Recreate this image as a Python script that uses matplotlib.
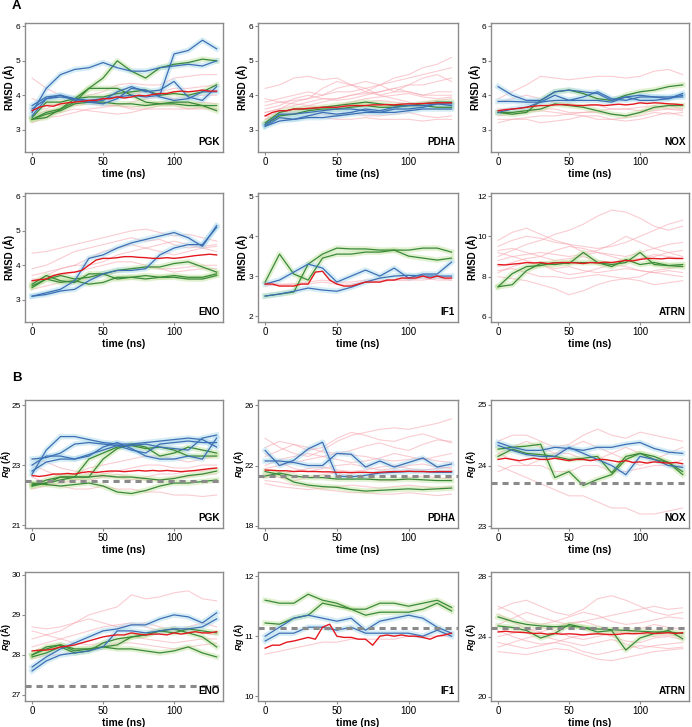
import numpy as np
import matplotlib
matplotlib.use("Agg")
import matplotlib.pyplot as plt

plt.rcParams['font.family'] = ['Liberation Sans', 'DejaVu Sans']
plt.rcParams['mathtext.fontset'] = 'custom'
plt.rcParams['mathtext.it'] = 'Liberation Sans:italic:bold'

# time grids (ns)
t10 = np.arange(0, 131, 10)
t5 = np.arange(0, 131, 5)

# ---------------- A: RMSD ----------------
pgk_rmsd_blue = [
    [3.5, 4.2, 4.6, 4.75, 4.8, 4.95, 4.8, 4.7, 4.7, 4.8, 4.85, 4.9, 4.85, 5.0],
    [3.6, 3.9, 3.95, 3.9, 3.85, 3.9, 3.95, 4.0, 3.95, 4.0, 5.2, 5.3, 5.6, 5.35],
    [3.7, 3.95, 4.0, 3.9, 3.8, 3.85, 4.1, 4.25, 4.1, 4.15, 4.4, 3.95, 3.85, 4.25],
    [3.4, 3.9, 4.0, 3.85, 3.8, 3.75, 3.9, 4.2, 4.15, 3.95, 3.85, 3.9, 4.1, 4.1],
]
pgk_rmsd_green = [
    [3.3, 3.5, 3.6, 3.8, 4.2, 4.5, 5.0, 4.7, 4.5, 4.8, 4.9, 4.95, 5.05, 5.0],
    [3.3, 3.35, 3.6, 3.9, 4.2, 4.2, 4.2, 4.0, 3.8, 3.75, 3.8, 3.8, 3.7, 3.55],
    [3.3, 3.45, 3.55, 3.75, 3.8, 3.8, 3.75, 3.75, 3.7, 3.75, 3.75, 3.7, 3.7, 3.7],
    [3.35, 3.8, 3.8, 3.9, 3.95, 3.95, 4.05, 4.1, 4.15, 4.0, 4.05, 4.0, 4.1, 4.3],
]
pgk_rmsd_pink = [
    [4.5, 4.2, 4.0, 3.9, 3.8, 3.8, 3.7, 3.6, 3.6, 3.7, 3.7, 3.6, 3.6, 3.6],
    [3.3, 3.4, 3.5, 3.6, 3.55, 3.5, 3.45, 3.5, 3.6, 3.6, 3.6, 3.6, 3.65, 3.6],
    [3.6, 3.6, 3.8, 3.9, 4.0, 4.1, 4.3, 4.35, 4.3, 4.3, 4.5, 4.55, 4.6, 4.6],
    [3.2, 3.35, 3.4, 3.5, 3.6, 3.65, 3.7, 3.65, 3.7, 3.8, 3.8, 3.75, 3.8, 3.75],
    [3.9, 3.75, 3.7, 3.75, 3.85, 3.9, 4.0, 4.05, 4.1, 4.1, 4.2, 4.2, 4.25, 4.3],
    [3.4, 3.55, 3.6, 3.7, 3.75, 3.7, 3.7, 3.8, 3.9, 3.95, 3.9, 3.95, 4.0, 4.0],
]
pgk_rmsd_red = [3.55, 3.65, 3.7, 3.68, 3.75, 3.78, 3.8, 3.82, 3.85, 3.85, 3.9, 3.9, 3.95, 3.92,
                3.95, 4.0, 3.98, 4.02, 4.05, 4.05, 4.1, 4.12, 4.1, 4.12, 4.15, 4.12, 4.12]

pdha_rmsd_blue = [
    [3.1, 3.25, 3.3, 3.35, 3.35, 3.4, 3.45, 3.5, 3.5, 3.5, 3.55, 3.6, 3.6, 3.6],
    [3.15, 3.45, 3.45, 3.5, 3.55, 3.6, 3.6, 3.55, 3.5, 3.6, 3.6, 3.65, 3.75, 3.75],
    [3.1, 3.35, 3.3, 3.4, 3.5, 3.45, 3.5, 3.6, 3.55, 3.65, 3.7, 3.7, 3.75, 3.7],
]
pdha_rmsd_green = [
    [3.2, 3.5, 3.6, 3.6, 3.65, 3.7, 3.75, 3.8, 3.75, 3.7, 3.7, 3.75, 3.8, 3.8],
    [3.15, 3.4, 3.45, 3.55, 3.6, 3.6, 3.65, 3.7, 3.65, 3.65, 3.7, 3.7, 3.65, 3.65],
]
pdha_rmsd_pink = [
    [4.2, 4.3, 4.5, 4.55, 4.45, 4.5, 4.3, 4.4, 4.3, 4.1, 4.1, 4.0, 4.0, 4.0],
    [3.5, 3.6, 3.8, 3.9, 4.0, 4.1, 4.1, 4.2, 4.3, 4.5, 4.6, 4.8, 4.9, 5.1],
    [3.3, 3.5, 3.6, 3.7, 3.8, 3.9, 4.0, 4.1, 4.3, 4.4, 4.5, 4.6, 4.7, 4.8],
    [3.4, 3.3, 3.3, 3.4, 3.35, 3.3, 3.3, 3.35, 3.3, 3.3, 3.3, 3.25, 3.3, 3.3],
    [3.6, 3.7, 3.9, 4.0, 3.9, 3.9, 4.0, 4.05, 4.1, 4.2, 4.1, 4.0, 4.1, 4.1],
    [3.8, 3.9, 4.0, 4.1, 4.0, 4.2, 4.3, 4.2, 4.0, 3.9, 3.8, 3.7, 3.7, 3.75],
    [3.3, 3.4, 3.5, 3.5, 3.45, 3.4, 3.5, 3.4, 3.4, 3.45, 3.5, 3.4, 3.35, 3.4],
    [3.5, 3.6, 3.7, 3.8, 3.9, 3.85, 3.9, 4.0, 4.1, 4.2, 4.3, 4.3, 4.4, 4.5],
    [3.7, 3.8, 3.85, 3.9, 4.2, 4.4, 4.3, 4.1, 4.0, 4.1, 4.3, 4.5, 4.6, 4.4],
    [3.4, 3.5, 3.55, 3.6, 3.6, 3.65, 3.7, 3.8, 3.85, 3.8, 3.75, 3.8, 3.85, 3.9],
    [3.9, 3.8, 3.75, 3.7, 3.65, 3.7, 3.8, 3.9, 3.95, 4.0, 4.05, 3.95, 3.9, 3.95],
]
pdha_rmsd_red = [3.4, 3.5, 3.55, 3.55, 3.6, 3.6, 3.62, 3.63, 3.65, 3.65, 3.65, 3.68, 3.7, 3.7,
                 3.7, 3.72, 3.72, 3.73, 3.72, 3.74, 3.75, 3.75, 3.76, 3.77, 3.78, 3.78, 3.78]

nox_rmsd_blue = [
    [4.25, 4.0, 3.85, 3.85, 4.1, 4.15, 4.1, 4.05, 3.85, 3.95, 3.85, 3.85, 3.9, 4.05],
    [3.82, 3.82, 3.8, 3.8, 3.85, 3.85, 3.95, 4.1, 3.9, 3.85, 3.95, 3.95, 3.95, 3.95],
    [3.5, 3.6, 3.65, 3.8, 4.0, 3.85, 3.85, 3.85, 3.8, 3.95, 4.0, 3.95, 3.9, 4.0],
]
nox_rmsd_green = [
    [3.5, 3.45, 3.5, 3.85, 4.1, 4.15, 4.05, 3.9, 3.85, 4.0, 4.1, 4.15, 4.25, 4.3],
    [3.5, 3.5, 3.55, 3.6, 3.75, 3.7, 3.65, 3.55, 3.45, 3.4, 3.5, 3.65, 3.7, 3.7],
]
nox_rmsd_pink = [
    [3.9, 4.1, 4.3, 4.55, 4.5, 4.45, 4.5, 4.55, 4.55, 4.5, 4.55, 4.7, 4.75, 4.6],
    [3.3, 3.3, 3.35, 3.4, 3.4, 3.45, 3.4, 3.3, 3.3, 3.35, 3.4, 3.5, 3.45, 3.5],
    [3.2, 3.3, 3.3, 3.2, 3.25, 3.3, 3.4, 3.4, 3.3, 3.25, 3.3, 3.4, 3.5, 3.4],
    [3.8, 3.9, 4.0, 3.9, 3.8, 3.75, 3.7, 3.7, 3.6, 3.6, 3.65, 3.7, 3.6, 3.6],
    [3.6, 3.6, 3.55, 3.6, 3.6, 3.5, 3.5, 3.55, 3.6, 3.6, 3.55, 3.6, 3.7, 3.6],
    [3.4, 3.45, 3.5, 3.55, 3.5, 3.45, 3.5, 3.5, 3.45, 3.4, 3.5, 3.55, 3.6, 3.55],
]
nox_rmsd_red = [3.55, 3.58, 3.6, 3.62, 3.65, 3.68, 3.7, 3.7, 3.72, 3.73, 3.72, 3.7, 3.7, 3.72,
                3.72, 3.7, 3.72, 3.74, 3.72, 3.74, 3.78, 3.76, 3.78, 3.77, 3.75, 3.74, 3.72]

eno_rmsd_blue = [
    [3.1, 3.2, 3.3, 3.55, 4.2, 4.3, 4.5, 4.65, 4.75, 4.85, 4.95, 4.8, 4.55, 5.15],
    [3.1, 3.15, 3.25, 3.3, 3.55, 3.75, 3.85, 3.85, 3.9, 4.3, 4.5, 4.6, 4.6, 5.1],
]
eno_rmsd_green = [
    [3.35, 3.6, 3.7, 3.6, 3.65, 3.75, 3.85, 3.9, 3.95, 3.95, 4.05, 4.1, 3.95, 3.8],
    [3.45, 3.7, 3.55, 3.5, 3.75, 3.75, 3.6, 3.65, 3.7, 3.65, 3.65, 3.6, 3.6, 3.7],
    [3.4, 3.6, 3.5, 3.55, 3.45, 3.5, 3.65, 3.65, 3.6, 3.65, 3.7, 3.65, 3.65, 3.75],
]
eno_rmsd_pink = [
    [4.35, 4.4, 4.5, 4.6, 4.7, 4.8, 4.9, 5.0, 5.05, 4.95, 4.85, 4.9, 4.8, 4.7],
    [3.9, 4.0, 4.2, 4.4, 4.5, 4.6, 4.7, 4.8, 4.7, 4.75, 4.6, 4.5, 4.55, 4.6],
    [3.7, 3.8, 3.9, 4.0, 4.2, 4.4, 4.5, 4.6, 4.5, 4.4, 4.3, 4.4, 4.5, 4.55],
    [3.6, 3.6, 3.7, 3.8, 3.9, 4.0, 4.1, 4.1, 4.0, 3.9, 3.9, 3.95, 4.0, 4.0],
    [3.3, 3.4, 3.5, 3.6, 3.6, 3.7, 3.8, 3.9, 3.95, 3.9, 3.8, 3.85, 3.9, 3.9],
    [3.5, 3.7, 3.9, 4.0, 4.0, 4.1, 4.3, 4.4, 4.5, 4.6, 4.7, 4.6, 4.5, 4.4],
]
eno_rmsd_red = [3.55, 3.58, 3.6, 3.7, 3.75, 3.78, 3.8, 3.85, 4.0, 4.15, 4.2, 4.2, 4.22, 4.25,
                4.25, 4.23, 4.22, 4.2, 4.2, 4.22, 4.2, 4.22, 4.25, 4.28, 4.3, 4.32, 4.3]

if1_rmsd_blue = [
    [2.8, 2.9, 3.1, 3.3, 3.2, 2.85, 3.0, 3.15, 3.0, 3.2, 2.95, 3.05, 3.05, 3.35],
    [2.5, 2.55, 2.62, 2.7, 2.65, 2.62, 2.72, 2.85, 2.95, 3.0, 3.02, 3.0, 3.0, 3.0],
]
if1_rmsd_green = [
    [2.5, 2.55, 2.6, 3.3, 3.55, 3.7, 3.68, 3.68, 3.65, 3.65, 3.65, 3.7, 3.7, 3.6],
    [2.85, 3.55, 3.05, 2.9, 3.45, 3.55, 3.55, 3.6, 3.6, 3.65, 3.5, 3.45, 3.4, 3.45],
]
if1_rmsd_pink = [
    [2.85, 2.8, 2.8, 2.85, 2.9, 2.85, 2.85, 2.9, 2.9, 2.9, 2.9, 2.95, 2.9, 2.9],
    [2.75, 2.78, 2.8, 2.8, 2.85, 2.8, 2.8, 2.85, 2.85, 2.9, 2.9, 2.9, 2.95, 2.9],
]
if1_rmsd_red = [2.8, 2.8, 2.75, 2.75, 2.75, 2.8, 2.8, 3.1, 3.12, 2.9, 2.8, 2.75, 2.75, 2.8,
                2.85, 2.85, 2.85, 2.9, 2.9, 2.95, 2.95, 2.95, 3.0, 2.95, 3.0, 2.95, 2.95]

atrn_rmsd_blue = []
atrn_rmsd_green = [
    [7.5, 8.15, 8.5, 8.55, 8.7, 8.65, 9.2, 8.7, 8.6, 8.7, 9.2, 8.6, 8.55, 8.6],
    [7.5, 7.6, 8.3, 8.65, 8.6, 8.7, 8.7, 8.7, 8.5, 8.85, 8.6, 8.7, 8.55, 8.5],
]
atrn_rmsd_pink = [
    [9.0, 9.3, 9.6, 9.8, 10.1, 10.3, 10.6, 11.0, 11.3, 11.2, 10.9, 10.5, 10.3, 10.5],
    [9.5, 9.8, 10.0, 9.9, 9.7, 9.6, 9.5, 9.4, 9.5, 9.7, 10.0, 10.3, 10.6, 10.8],
    [8.0, 7.9, 7.8, 7.6, 7.4, 7.1, 7.3, 7.6, 7.8, 7.9, 7.8, 7.6, 7.7, 7.8],
    [8.8, 9.0, 9.1, 9.2, 9.1, 9.0, 9.1, 9.2, 9.1, 9.0, 9.2, 9.4, 9.6, 9.7],
    [9.2, 9.0, 8.8, 8.6, 8.4, 8.5, 8.3, 8.2, 8.3, 8.4, 8.3, 8.2, 8.1, 8.0],
    [8.3, 8.4, 8.2, 8.0, 8.0, 7.9, 8.0, 8.1, 8.0, 7.9, 8.0, 8.3, 8.4, 8.5],
    [9.8, 10.2, 10.4, 10.1, 9.8, 9.6, 9.2, 9.3, 9.6, 10.0, 9.7, 9.4, 9.2, 9.0],
    [8.5, 8.7, 8.9, 9.0, 9.3, 9.5, 9.4, 9.2, 9.0, 8.8, 8.9, 9.1, 9.0, 8.9],
    [9.3, 9.4, 9.2, 9.0, 8.8, 8.9, 9.0, 8.8, 8.6, 8.7, 8.9, 9.0, 9.2, 9.3],
    [8.2, 8.5, 8.7, 8.6, 8.3, 8.1, 8.2, 8.4, 8.6, 8.5, 8.3, 8.2, 8.3, 8.2],
]
atrn_rmsd_red = [8.6, 8.58, 8.62, 8.65, 8.7, 8.68, 8.7, 8.65, 8.68, 8.7, 8.7, 8.68, 8.65, 8.7,
                 8.68, 8.72, 8.7, 8.75, 8.8, 8.78, 8.85, 8.9, 8.9, 8.88, 8.92, 8.9, 8.9]

# ---------------- B: Rg ----------------
pgk_rg_blue = [
    [22.7, 23.5, 23.95, 23.95, 23.85, 23.75, 23.7, 23.7, 23.75, 23.8, 23.85, 23.9, 23.85, 23.6],
    [23.2, 23.25, 23.4, 23.7, 23.75, 23.7, 23.65, 23.65, 23.7, 23.6, 23.55, 23.5, 23.9, 24.0],
    [23.0, 23.3, 23.3, 23.2, 23.35, 23.5, 23.65, 23.5, 23.4, 23.7, 23.75, 23.8, 23.75, 23.75],
    [22.8, 23.1, 23.2, 23.2, 23.3, 23.6, 23.75, 23.55, 23.3, 23.2, 23.2, 23.3, 23.2, 23.9],
]
pgk_rg_green = [
    [22.3, 22.5, 22.6, 22.6, 23.2, 23.4, 23.6, 23.65, 23.55, 23.6, 23.5, 23.3, 23.3, 23.3],
    [22.3, 22.4, 22.6, 22.6, 22.6, 23.2, 23.55, 23.7, 23.6, 23.3, 23.4, 23.6, 23.5, 23.4],
    [22.35, 22.4, 22.5, 22.6, 22.6, 22.65, 22.6, 22.6, 22.55, 22.5, 22.55, 22.65, 22.7, 22.8],
    [22.4, 22.35, 22.3, 22.35, 22.4, 22.3, 22.1, 22.05, 22.15, 22.3, 22.4, 22.4, 22.45, 22.5],
]
pgk_rg_pink = [
    [23.0, 22.8, 22.6, 22.5, 22.6, 22.7, 22.8, 22.9, 23.0, 23.0, 22.9, 22.9, 23.0, 23.0],
    [22.4, 22.5, 22.6, 22.7, 22.9, 23.0, 23.1, 23.2, 23.3, 23.3, 23.2, 23.1, 23.2, 23.3],
    [22.6, 22.4, 22.3, 22.2, 22.2, 22.3, 22.2, 22.2, 22.1, 22.1, 22.0, 22.0, 21.95, 22.0],
    [23.2, 23.1, 22.9, 22.8, 22.7, 22.6, 22.6, 22.5, 22.6, 22.7, 22.7, 22.8, 22.8, 22.9],
    [22.2, 22.3, 22.4, 22.5, 22.5, 22.6, 22.7, 22.6, 22.5, 22.5, 22.6, 22.6, 22.7, 22.7],
]
pgk_rg_red = [22.65, 22.62, 22.65, 22.7, 22.7, 22.72, 22.7, 22.75, 22.78, 22.75, 22.78, 22.8, 22.8, 22.78,
              22.8, 22.82, 22.8, 22.82, 22.8, 22.82, 22.8, 22.78, 22.8, 22.82, 22.85, 22.88, 22.9]

pdha_rg_blue = [
    [23.0, 22.0, 22.35, 23.1, 23.55, 21.3, 21.25, 21.35, 21.5, 21.55, 21.6, 21.6, 21.55, 21.55],
    [22.3, 22.3, 22.2, 22.0, 22.0, 22.8, 22.75, 21.9, 22.3, 21.9, 22.2, 22.5, 21.9, 22.1],
]
pdha_rg_green = [
    [21.3, 21.5, 21.3, 21.2, 21.2, 21.1, 21.1, 21.1, 21.05, 21.05, 21.1, 21.05, 21.0, 21.0],
    [21.6, 21.4, 20.9, 20.7, 20.6, 20.55, 20.4, 20.3, 20.35, 20.4, 20.45, 20.4, 20.45, 20.5],
]
pdha_rg_pink = [
    [23.8, 23.2, 22.8, 22.6, 23.0, 23.6, 24.0, 24.2, 24.4, 24.5, 24.4, 24.6, 24.8, 25.1],
    [22.6, 23.0, 23.4, 23.2, 22.9, 22.8, 23.0, 23.3, 23.5, 23.2, 23.0, 23.4, 23.7, 23.6],
    [21.0, 20.9, 20.7, 20.6, 20.4, 20.3, 20.2, 20.2, 20.1, 20.1, 20.2, 20.1, 20.0, 20.1],
    [20.8, 20.6, 20.5, 20.4, 20.5, 20.6, 20.7, 20.6, 20.5, 20.6, 20.7, 20.6, 20.5, 20.6],
    [22.0, 22.4, 22.6, 22.8, 22.6, 22.4, 22.2, 22.3, 22.5, 22.8, 22.6, 22.4, 22.6, 22.8],
    [21.4, 21.2, 21.0, 21.2, 21.4, 21.5, 21.3, 21.2, 21.0, 21.0, 21.2, 21.3, 21.2, 21.1],
    [22.8, 22.2, 21.8, 21.6, 21.8, 22.0, 22.1, 21.9, 21.7, 21.8, 22.0, 22.1, 21.9, 21.8],
    [21.8, 22.0, 22.2, 22.4, 22.6, 22.8, 22.7, 22.6, 22.4, 22.3, 22.4, 22.5, 22.3, 22.2],
    [23.2, 23.6, 23.4, 23.0, 23.2, 23.8, 24.2, 24.0, 23.7, 23.6, 23.9, 24.1, 23.8, 23.5],
    [21.2, 21.4, 21.6, 21.8, 21.9, 21.7, 21.6, 21.7, 21.9, 22.0, 21.8, 21.7, 21.8, 21.9],
]
pdha_rg_red = [21.7, 21.68, 21.65, 21.65, 21.6, 21.62, 21.6, 21.6, 21.58, 21.58, 21.55, 21.55, 21.52, 21.55,
               21.55, 21.52, 21.55, 21.58, 21.6, 21.6, 21.62, 21.6, 21.6, 21.58, 21.6, 21.6, 21.6]

nox_rg_blue = [
    [24.38, 24.3, 24.25, 24.25, 24.3, 24.28, 24.25, 24.3, 24.3, 24.35, 24.38, 24.28, 24.22, 24.2],
    [24.33, 24.25, 24.18, 24.15, 24.15, 24.3, 24.2, 24.1, 24.0, 23.85, 24.15, 24.1, 24.0, 23.97],
]
nox_rg_green = [
    [24.27, 24.3, 24.32, 24.35, 23.8, 23.9, 23.67, 23.77, 23.85, 24.1, 24.2, 24.1, 24.05, 23.9],
    [24.15, 24.27, 24.2, 24.18, 24.15, 24.1, 24.12, 24.15, 23.88, 24.15, 24.2, 24.15, 24.05, 23.85],
]
nox_rg_pink = [
    [24.4, 24.5, 24.5, 24.4, 24.3, 24.35, 24.5, 24.6, 24.5, 24.45, 24.55, 24.5, 24.45, 24.4],
    [24.0, 23.9, 23.8, 23.7, 23.6, 23.5, 23.5, 23.4, 23.3, 23.3, 23.2, 23.2, 23.25, 23.3],
    [24.2, 24.3, 24.4, 24.3, 24.2, 24.2, 24.1, 24.1, 24.2, 24.3, 24.2, 24.1, 24.0, 24.1],
    [23.9, 24.0, 24.0, 24.0, 23.9, 23.9, 24.0, 24.0, 23.9, 23.9, 23.95, 24.0, 24.0, 24.0],
    [24.2, 24.1, 24.0, 24.1, 24.2, 24.3, 24.4, 24.3, 24.2, 24.1, 24.0, 24.1, 24.2, 24.3],
]
nox_rg_red = [24.1, 24.12, 24.1, 24.08, 24.1, 24.12, 24.1, 24.1, 24.12, 24.1, 24.08, 24.1, 24.1, 24.08,
              24.1, 24.1, 24.08, 24.06, 24.08, 24.05, 24.06, 24.04, 24.06, 24.05, 24.04, 24.05, 24.03]

eno_rg_blue = [
    [27.7, 27.95, 28.15, 28.3, 28.45, 28.6, 28.65, 28.75, 28.75, 28.9, 29.0, 28.95, 28.8, 29.05],
    [27.6, 27.85, 28.0, 28.05, 28.1, 28.2, 28.6, 28.6, 28.55, 28.6, 28.65, 28.65, 28.7, 28.9],
]
eno_rg_green = [
    [28.0, 28.15, 28.25, 28.15, 28.15, 28.2, 28.25, 28.45, 28.5, 28.6, 28.65, 28.55, 28.45, 28.2],
    [28.0, 28.2, 28.25, 28.1, 28.15, 28.2, 28.15, 28.15, 28.1, 28.05, 28.1, 28.2, 28.05, 27.95],
    [27.95, 28.05, 28.2, 28.05, 28.1, 28.3, 28.4, 28.45, 28.5, 28.6, 28.55, 28.65, 28.6, 28.55],
]
eno_rg_pink = [
    [28.4, 28.5, 28.6, 28.8, 29.0, 29.1, 29.2, 29.5, 29.4, 29.45, 29.55, 29.6, 29.4, 29.35],
    [28.7, 28.65, 28.7, 28.8, 28.9, 28.8, 28.7, 28.75, 28.8, 28.7, 28.6, 28.7, 28.8, 28.7],
    [28.2, 28.3, 28.4, 28.5, 28.6, 28.7, 28.75, 28.8, 28.7, 28.6, 28.7, 28.6, 28.55, 28.5],
    [28.6, 28.5, 28.4, 28.3, 28.25, 28.3, 28.4, 28.45, 28.4, 28.35, 28.3, 28.35, 28.4, 28.4],
    [27.9, 28.0, 28.0, 28.1, 28.15, 28.2, 28.3, 28.3, 28.25, 28.2, 28.15, 28.2, 28.25, 28.3],
]
eno_rg_red = [28.1, 28.12, 28.12, 28.15, 28.2, 28.22, 28.25, 28.3, 28.35, 28.4, 28.45, 28.48, 28.5, 28.5,
              28.55, 28.52, 28.5, 28.52, 28.52, 28.5, 28.55, 28.52, 28.55, 28.58, 28.55, 28.55, 28.58]

if1_rg_blue = [
    [11.0, 11.15, 11.3, 11.35, 11.3, 11.25, 11.3, 11.1, 11.25, 11.3, 11.35, 11.3, 11.15, 11.05],
    [10.92, 11.05, 11.05, 11.15, 11.15, 11.1, 11.15, 11.05, 11.05, 11.05, 11.05, 11.0, 11.1, 11.0],
]
if1_rg_green = [
    [11.6, 11.55, 11.55, 11.7, 11.6, 11.55, 11.45, 11.45, 11.55, 11.55, 11.5, 11.55, 11.6, 11.48],
    [11.22, 11.2, 11.3, 11.35, 11.55, 11.5, 11.45, 11.35, 11.4, 11.4, 11.4, 11.45, 11.55, 11.42],
]
if1_rg_pink = [
    [10.7, 10.75, 10.8, 10.85, 10.9, 10.9, 10.95, 10.95, 10.95, 10.95, 11.0, 11.0, 11.0, 11.0],
]
if1_rg_red = [10.8, 10.85, 10.85, 10.9, 10.92, 10.95, 10.98, 10.95, 11.15, 11.2, 11.0, 10.98, 10.98, 10.95,
              10.95, 10.85, 11.0, 11.02, 11.0, 11.02, 11.0, 11.0, 10.98, 10.95, 11.0, 11.02, 11.05]

atrn_rg_blue = []
atrn_rg_green = [
    [25.3, 25.0, 24.8, 24.7, 24.65, 24.7, 24.6, 24.5, 24.45, 24.4, 24.35, 24.3, 24.3, 24.2],
    [24.7, 24.6, 24.4, 23.9, 24.2, 24.8, 24.6, 24.3, 24.4, 23.1, 23.9, 24.2, 24.4, 23.85],
]
atrn_rg_pink = [
    [25.8, 26.2, 26.4, 26.0, 25.6, 25.4, 25.8, 26.5, 26.7, 26.4, 26.0, 25.6, 25.4, 25.6],
    [23.0, 22.9, 22.8, 23.0, 23.2, 23.1, 22.8, 22.5, 22.4, 22.6, 22.8, 23.0, 23.1, 23.2],
    [24.8, 25.2, 25.6, 25.3, 25.0, 24.8, 25.0, 25.2, 25.4, 25.6, 25.8, 26.0, 25.8, 25.9],
    [23.6, 23.4, 23.2, 23.4, 23.6, 23.4, 23.0, 22.8, 23.0, 23.2, 23.4, 23.3, 23.2, 23.3],
    [24.0, 24.2, 24.4, 24.6, 24.4, 24.0, 23.8, 24.0, 24.2, 24.4, 24.2, 24.0, 24.1, 24.0],
    [25.5, 25.0, 24.5, 24.3, 24.6, 24.9, 25.0, 24.7, 24.4, 24.2, 24.5, 24.8, 24.6, 24.5],
    [23.3, 23.6, 23.9, 24.1, 23.8, 23.6, 23.4, 23.6, 23.8, 23.5, 23.2, 23.4, 23.5, 23.6],
    [26.0, 25.6, 25.0, 24.8, 25.0, 25.3, 25.6, 25.4, 25.0, 24.8, 24.9, 25.1, 25.3, 25.2],
    [24.4, 24.0, 23.7, 23.5, 23.6, 23.9, 24.1, 24.3, 24.0, 23.7, 23.6, 23.9, 24.0, 23.8],
]
atrn_rg_red = [24.3, 24.35, 24.3, 24.28, 24.25, 24.2, 24.22, 24.15, 24.2, 24.15, 24.18, 24.15, 24.1, 24.15,
               24.18, 24.15, 24.12, 24.15, 24.2, 24.18, 24.2, 24.25, 24.2, 24.22, 24.25, 24.2, 24.25]

names = ['PGK', 'PDHA', 'NOX', 'ENO', 'IF1', 'ATRN']
rmsd_ylim = [(2.35, 6.1), (2.35, 6.1), (2.35, 6.1), (2.35, 6.1), (1.85, 5.08), (5.75, 12.15)]
rmsd_ticks = [[3, 4, 5, 6]] * 4 + [[2, 3, 4, 5], [6, 8, 10, 12]]
rg_ylim = [(20.9, 25.17), (17.85, 26.35), (22.97, 25.08), (26.85, 30.07), (9.92, 12.07), (19.73, 28.27)]
rg_ticks = [[21, 23, 25], [18, 22, 26], [23, 24, 25], [27, 28, 29, 30], [10, 11, 12], [20, 24, 28]]
rg_ref = [22.47, 21.27, 23.72, 27.22, 11.14, 24.55]

rmsd_sets = [
    (pgk_rmsd_pink, pgk_rmsd_green, pgk_rmsd_blue, pgk_rmsd_red),
    (pdha_rmsd_pink, pdha_rmsd_green, pdha_rmsd_blue, pdha_rmsd_red),
    (nox_rmsd_pink, nox_rmsd_green, nox_rmsd_blue, nox_rmsd_red),
    (eno_rmsd_pink, eno_rmsd_green, eno_rmsd_blue, eno_rmsd_red),
    (if1_rmsd_pink, if1_rmsd_green, if1_rmsd_blue, if1_rmsd_red),
    (atrn_rmsd_pink, atrn_rmsd_green, atrn_rmsd_blue, atrn_rmsd_red),
]
rg_sets = [
    (pgk_rg_pink, pgk_rg_green, pgk_rg_blue, pgk_rg_red),
    (pdha_rg_pink, pdha_rg_green, pdha_rg_blue, pdha_rg_red),
    (nox_rg_pink, nox_rg_green, nox_rg_blue, nox_rg_red),
    (eno_rg_pink, eno_rg_green, eno_rg_blue, eno_rg_red),
    (if1_rg_pink, if1_rg_green, if1_rg_blue, if1_rg_red),
    (atrn_rg_pink, atrn_rg_green, atrn_rg_blue, atrn_rg_red),
]

W, H = 692, 727
fig = plt.figure(figsize=(W / 100, H / 100), dpi=100)

cols = [(25, 223), (258, 458), (491, 689)]
rows = [(23, 152), (193, 322), (400, 528), (572, 701)]

PINK = '#f6a3ad'
RED = '#e3191f'
BLUE = '#3d6fb4'
LBLUE = '#9dd3ea'
GREEN = '#3a8a3a'
LGREEN = '#b6dc8e'
SPINE = '#8c8c8c'


def make_ax(r, c, label_off):
    x0, x1 = cols[c]
    y0, y1 = rows[r]
    ax = fig.add_axes([x0 / W, 1 - y1 / H, (x1 - x0) / W, (y1 - y0) / H])
    for s in ax.spines.values():
        s.set_color(SPINE)
        s.set_linewidth(1.0)
    ax.tick_params(direction='out', length=2.2, width=0.8, color=SPINE,
                   labelsize=6.0, pad=1.0, top=False, right=False)
    ax.tick_params(axis='x', labelsize=7.0, pad=1.5)
    ax.set_xlim(-5, 134.5)
    ax.set_xticks([0, 50, 100])
    ax.set_xlabel('time (ns)', fontsize=7.5, fontweight='bold', labelpad=1)
    # y label centred a fixed number of pixels left of the axes
    ax.yaxis.set_label_coords(-label_off / (x1 - x0), 0.5)
    return ax


def draw(ax, sets, ref=None):
    pink, green, blue, red = sets
    for p in pink:
        ax.plot(t10, p, color=PINK, lw=0.8, alpha=0.55, zorder=1)
    for g in green:
        ax.plot(t10, g, color=LGREEN, lw=4.0, alpha=0.4, zorder=2)
    for b in blue:
        ax.plot(t10, b, color=LBLUE, lw=4.0, alpha=0.4, zorder=2)
    ax.plot(t5, red, color=RED, lw=1.0, zorder=4)
    for g in green:
        ax.plot(t10, g, color=GREEN, lw=0.9, zorder=3)
    for b in blue:
        ax.plot(t10, b, color=BLUE, lw=0.9, zorder=3)
    if ref is not None:
        ax.axhline(ref, color='#8a8a8a', lw=2.2, ls=(0, (2, 1.6)), zorder=5)


for i, name in enumerate(names):
    r, c = divmod(i, 3)
    ax = make_ax(r, c, 19 if name == 'ATRN' else 16)
    draw(ax, rmsd_sets[i])
    ax.set_ylim(*rmsd_ylim[i])
    ax.set_yticks(rmsd_ticks[i])
    ax.set_ylabel('RMSD (Å)', fontsize=7, fontweight='bold', va='center')
    ax.text(0.985, 0.04, name, transform=ax.transAxes, ha='right', va='bottom',
            fontsize=7.2, fontweight='bold', zorder=6)

for i, name in enumerate(names):
    r, c = divmod(i, 3)
    ax = make_ax(r + 2, c, 19.5)
    draw(ax, rg_sets[i], rg_ref[i])
    ax.set_ylim(*rg_ylim[i])
    ax.set_yticks(rg_ticks[i])
    ax.set_ylabel(r'$Rg$ (Å)', fontsize=6.4, fontweight='bold', va='center')
    ax.text(0.985, 0.04, name, transform=ax.transAxes, ha='right', va='bottom',
            fontsize=7.2, fontweight='bold', zorder=6)

fig.text(12 / W, 1 - 6 / H, 'A', fontsize=9.5, fontweight='bold', va='center')
fig.text(12 / W, 1 - 378 / H, 'B', fontsize=9.5, fontweight='bold', va='center')

fig.savefig('out.png', dpi=100)
